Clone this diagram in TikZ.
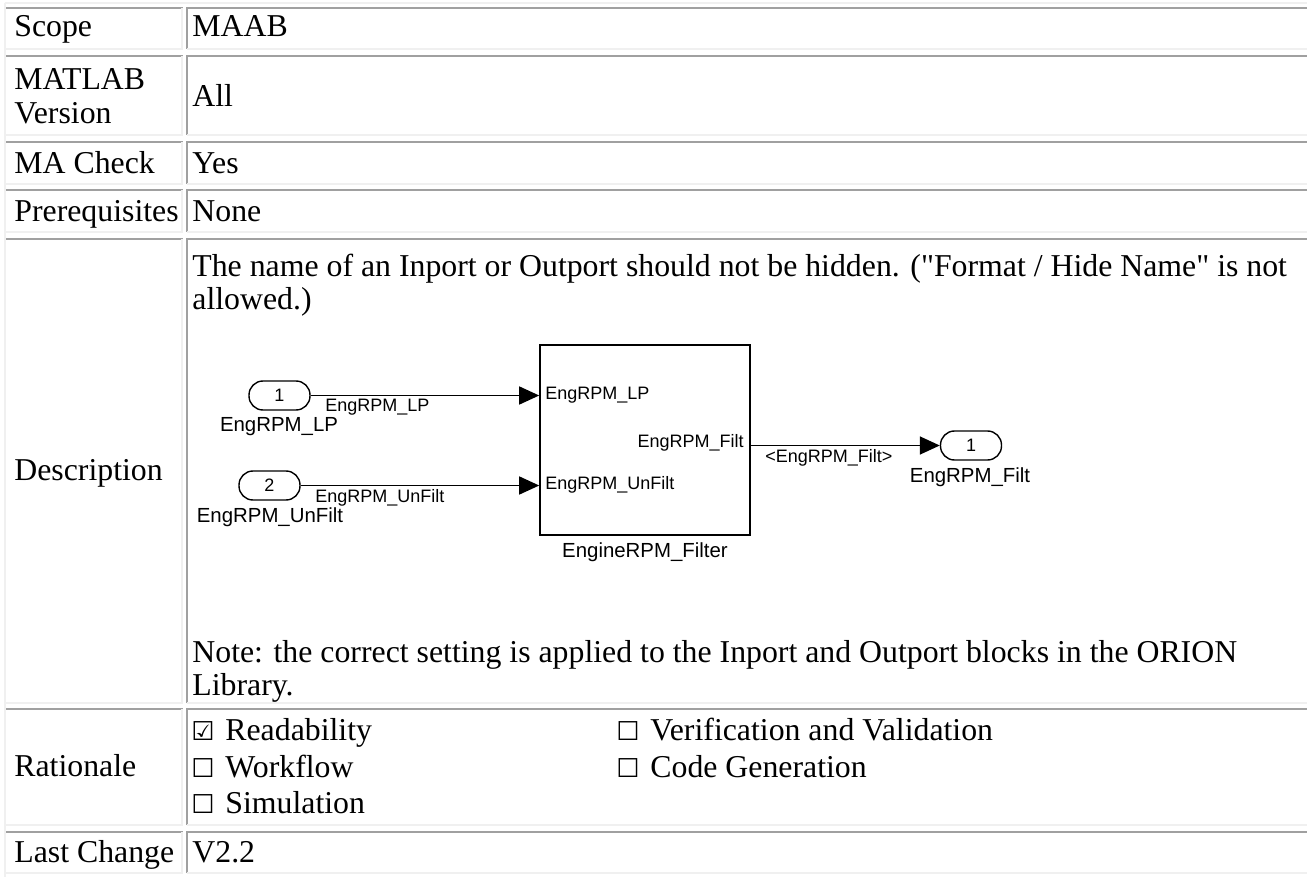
\documentclass[tikz,border=0pt]{standalone}
\usepackage{fontspec}
\setmainfont{Liberation Serif}
\newfontfamily\diagfont{Liberation Sans}
\newfontfamily\symfont{DejaVu Sans}
\usetikzlibrary{arrows.meta, positioning}
\definecolor{ruledark}{HTML}{A0A0A0}
\definecolor{rulelight}{HTML}{F0F0F0}
\tikzset{
	celltext/.style={anchor=base west, inner sep=0pt, font=\fontsize{15.9}{17}\selectfont},
	checkbox/.style={anchor=base west, inner sep=0pt, font=\symfont\fontsize{13}{13}\selectfont},
	darkrule/.style={draw=ruledark, line width=1pt},
	lightrule/.style={draw=rulelight, line width=1pt},
	port/.style={draw, line width=0.7pt, rounded corners=7pt, minimum width=30.5pt, minimum height=14.5pt, inner sep=0pt, font=\diagfont\fontsize{9}{9}\selectfont},
	subsys/.style={draw, line width=0.8pt, minimum width=105pt, minimum height=95pt},
	siglabel/.style={inner sep=0pt, font=\diagfont\fontsize{9}{10}\selectfont},
	blockname/.style={inner sep=0pt, font=\diagfont\fontsize{10.2}{11}\selectfont},
	signal/.style={line width=0.8pt, -{Triangle[length=10pt, width=9pt]}}
}
\begin{document}
\begin{tikzpicture}[x=0.5pt, y=-0.5pt]
		\useasboundingbox[fill=white] (0,0) rectangle (1307,877);
		\clip (0,0) rectangle (1307,877);
		
		% table frame and cells
		\draw[lightrule] (4.5,3.5) -- (1320,3.5);
		\draw[lightrule] (4.5,3.5) -- (4.5,880);
		\foreach \top/\bot in {8/49, 56/135, 142/184, 190/232, 239/703, 709/825, 832/873} {
			\draw[darkrule] (6,\top) -- (183,\top);
			\draw[lightrule] (182,\top) -- (182,\bot) -- (6,\bot);
			\draw[darkrule] (187,\bot) -- (187,\top) -- (1320,\top);
			\draw[lightrule] (187,\bot) -- (1320,\bot);
		}
		
		\node[celltext] (scope) at (14,37) {Scope};
		\node[celltext] (scopeval) at (192,37) {MAAB};
		
		\node[celltext] (matlab) at (14,90) {MATLAB};
		\node[celltext] (version) at (14,124) {Version};
		\node[celltext] (versionval) at (192,107) {All};
		
		\node[celltext] (macheck) at (14,174) {MA Check};
		\node[celltext] (macheckval) at (192,174) {Yes};
		
		\node[celltext] (prereq) at (14,222) {Prerequisites};
		\node[celltext] (prereqval) at (192,222) {None};
		
		\node[celltext] (desc) at (14,480) {Description};
		\node[celltext] (descline) at (192,277) {The name of an Inport or Outport should not be hidden. (\textquotedbl Format / Hide Name\textquotedbl{} is not};
		\node[celltext] (descline2) at (192,310) {allowed.)};
		\node[celltext] (noteline) at (192,662) {Note: the correct setting is applied to the Inport and Outport blocks in the ORION};
		\node[celltext] (noteline2) at (192,695) {Library.};
		
		% model excerpt
		\node[port] (in1) at (279.5,395.5) {1};
		\node[port] (in2) at (269.5,485.5) {2};
		\node[subsys] (filter) at (645,440) {};
		\node[port] (out1) at (971,445.5) {1};
		
		\node[blockname] (in1name) at (279,427) {EngRPM\_LP};
		\node[blockname] (in2name) at (270,517) {EngRPM\_UnFilt};
		\node[blockname] (filtername) at (645,552) {EngineRPM\_Filter};
		\node[blockname] (out1name) at (970,477) {EngRPM\_Filt};
		
		\node[siglabel, anchor=west] (portlp) at (545,395) {EngRPM\_LP};
		\node[siglabel, anchor=west] (portunfilt) at (545,485) {EngRPM\_UnFilt};
		\node[siglabel, anchor=east] (portfilt) at (744,443) {EngRPM\_Filt};
		
		\node[siglabel, anchor=west] (siglp) at (325,407) {EngRPM\_LP};
		\node[siglabel, anchor=west] (sigunfilt) at (315,498) {EngRPM\_UnFilt};
		\node[siglabel, anchor=west] (sigfilt) at (765,458) {<EngRPM\_Filt>};
		
		\draw[signal] (in1.east) -- (in1.east -| filter.west);
		\draw[signal] (in2.east) -- (in2.east -| filter.west);
		\draw[signal] (filter.east |- out1.west) -- (out1.west);
		
		\node[celltext] (rationale) at (14,776) {Rationale};
		\node[checkbox] (boxread) at (191,740) {☑};
		\node[celltext] (read) at (225,740) {Readability};
		\node[checkbox] (boxwork) at (191,777) {☐};
		\node[celltext] (work) at (225,777) {Workflow};
		\node[checkbox] (boxsim) at (191,813) {☐};
		\node[celltext] (sim) at (225,813) {Simulation};
		\node[checkbox] (boxverif) at (616,740) {☐};
		\node[celltext] (verif) at (650,740) {Verification and Validation};
		\node[checkbox] (boxcode) at (616,777) {☐};
		\node[celltext] (code) at (650,777) {Code Generation};
		
		\node[celltext] (lastchange) at (14,862) {Last Change};
		\node[celltext] (lastchangeval) at (192,862) {V2.2};
	\end{tikzpicture}
\end{document}
